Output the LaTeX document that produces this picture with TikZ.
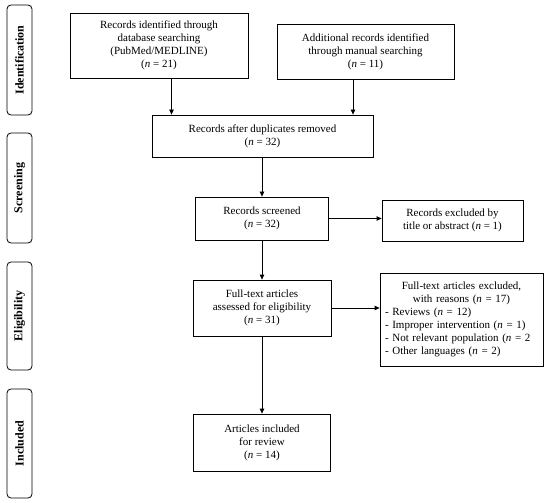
\documentclass[tikz,border=0pt]{standalone}
\usepackage{fontspec}
\setmainfont{Liberation Serif}
\usetikzlibrary{arrows.meta}
\begin{document}
\begin{tikzpicture}[x=1pt,y=-1pt,
  every node/.style={font=\fontsize{11}{13}\selectfont},
  flowbox/.style={draw=black,line width=0.8pt,rectangle,align=center,inner sep=2pt},
  sidebox/.style={draw=black,line width=0.8pt,rounded corners=4pt,
     font=\fontsize{12}{14}\selectfont\bfseries,rotate=90},
  arr/.style={line width=0.8pt,-{Triangle[length=5pt,width=4.5pt]}}]
\useasboundingbox (0,0) rectangle (550,503);
% phase labels
\node[sidebox,minimum width=110pt,minimum height=25pt] (ident) at (19.5,60) {Identification};
\node[sidebox,minimum width=110pt,minimum height=25pt] (screen) at (19.5,188) {Screening};
\node[sidebox,minimum width=108pt,minimum height=25pt] (elig) at (19.5,316) {Eligibility};
\node[sidebox,minimum width=109pt,minimum height=25pt] (incl) at (19.5,443.5) {Included};
% flow boxes
\node[flowbox,minimum width=178pt,minimum height=65pt] (db) at (159,45.5)
  {Records identified through\\database searching\\(PubMed/MEDLINE)\\(\textit{n} = 21)};
\node[flowbox,minimum width=177pt,minimum height=55pt] (man) at (365.5,51.5)
  {Additional records identified\\through manual searching\\(\textit{n} = 11)};
\node[flowbox,minimum width=221pt,minimum height=42pt] (dup) at (262.5,136)
  {Records after duplicates removed\\(\textit{n} = 32)};
\node[flowbox,minimum width=133pt,minimum height=43pt] (scr) at (262,218.5)
  {Records screened\\(\textit{n} = 32)};
\node[flowbox,minimum width=141pt,minimum height=41pt] (ex1) at (452.5,220.5)
  {Records excluded by\\title or abstract (\textit{n} = 1)};
\node[flowbox,minimum width=138pt,minimum height=56pt] (ft) at (262,308)
  {Full-text articles\\assessed for eligibility\\(\textit{n} = 31)};
\node[flowbox,minimum width=163pt,minimum height=93pt,inner sep=5pt,text width=153pt,align=left] (ex2) at (461.5,319.5)
  {{\centering Full-text articles excluded,\\with reasons (\textit{n} = 17)\par}
   - Reviews (\textit{n} = 12)\\
   - Improper intervention (\textit{n} = 1)\\
   - Not relevant population (\textit{n} = 2\\
   - Other languages (\textit{n} = 2)};
\node[flowbox,minimum width=137pt,minimum height=57pt] (inc) at (262,442.5)
  {Articles included\\for review\\(\textit{n} = 14)};
% connectors
\coordinate (xa) at (171.5,0);
\coordinate (xb) at (353,0);
\draw[arr] (db.south -| xa) -- (dup.north -| xa);
\draw[arr] (man.south -| xb) -- (dup.north -| xb);
\draw[arr] (dup.south -| scr.north) -- (scr.north);
\draw[arr] (scr.east) -- (scr.east -| ex1.west);
\draw[arr] (scr.south) -- (ft.north);
\draw[arr] (ft.east) -- (ft.east -| ex2.west);
\draw[arr] (ft.south) -- (inc.north);
\end{tikzpicture}
\end{document}
